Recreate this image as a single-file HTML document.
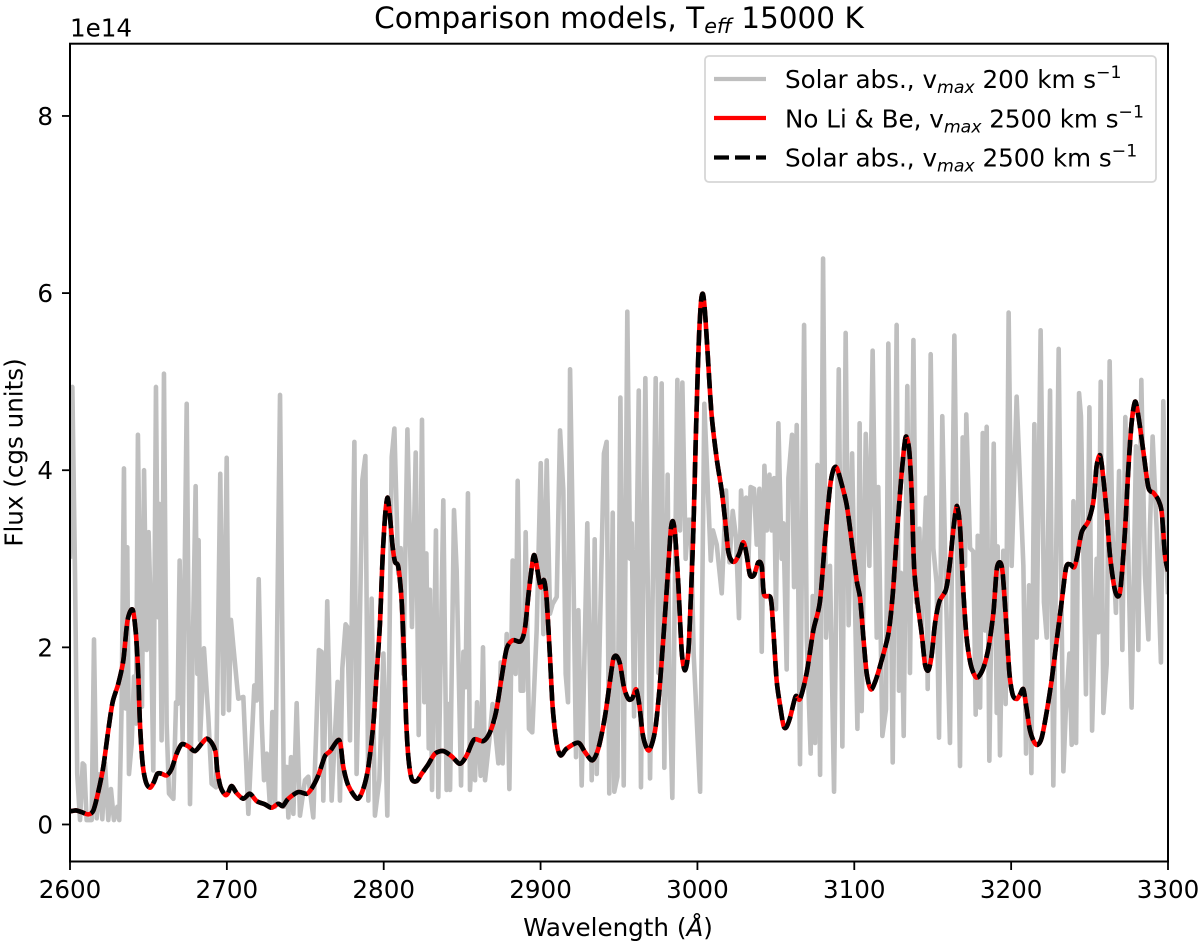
<!DOCTYPE html>
<html lang="en">
<head>
<meta charset="utf-8">
<title>Comparison models</title>
<style>
html,body{margin:0;padding:0;background:#fff}
svg{display:block}
text{font-family:"DejaVu Sans","Liberation Sans",sans-serif;fill:#000}
</style>
</head>
<body>
<svg id="chart" xmlns="http://www.w3.org/2000/svg" width="1200" height="944" viewBox="0 0 1200 944">
  <defs><clipPath id="plot-clip"><rect x="70" y="43.7" width="1098" height="817.8"/></clipPath></defs>
  <rect x="70" y="43.7" width="1098" height="817.8" fill="#fff"/>
  <g id="series" clip-path="url(#plot-clip)"></g>
  <rect x="70" y="43.7" width="1098" height="817.8" fill="none" stroke="#000" stroke-width="2"/>
  <g id="ticks"></g>
  <text x="619" y="28" text-anchor="middle" font-size="29.5">Comparison models, T<tspan font-size="20.7" dy="5" font-style="italic">eff</tspan><tspan dy="-5"> 15000 K</tspan></text>
  <text x="70" y="36.7" font-size="24.6">1e14</text>
  <text x="618" y="936" text-anchor="middle" font-size="24.6">Wavelength (<tspan font-style="italic">Å</tspan>)</text>
  <text transform="translate(22.5,452.5) rotate(-90)" text-anchor="middle" font-size="24.6">Flux (cgs units)</text>
  <g>
    <rect x="705" y="56" width="451" height="126" rx="4" fill="#fff" fill-opacity="0.9" stroke="#d6d6d6" stroke-width="1.8"/>
    <line x1="714" x2="766" y1="79" y2="79" stroke="#bfbfbf" stroke-width="4.2"/>
    <text x="785" y="88" font-size="24.6">Solar abs., v<tspan font-size="17.3" dy="5" font-style="italic">max</tspan><tspan dy="-5"> 200 km s</tspan><tspan font-size="17.3" dy="-10">−1</tspan></text>
    <line x1="714" x2="766" y1="118" y2="118" stroke="#ff0000" stroke-width="4.2"/>
    <text x="785" y="127.3" font-size="24.6">No Li &amp; Be, v<tspan font-size="17.3" dy="5" font-style="italic">max</tspan><tspan dy="-5"> 2500 km s</tspan><tspan font-size="17.3" dy="-10">−1</tspan></text>
    <line x1="714" x2="766" y1="157.5" y2="157.5" stroke="#000" stroke-width="4.2" stroke-dasharray="15 6"/>
    <text x="785" y="166.7" font-size="24.6">Solar abs., v<tspan font-size="17.3" dy="5" font-style="italic">max</tspan><tspan dy="-5"> 2500 km s</tspan><tspan font-size="17.3" dy="-10">−1</tspan></text>
  </g>
</svg>
<script>
const xTicks = [2600,2700,2800,2900,3000,3100,3200,3300];
const yTicks = [0,2,4,6,8];
const xDomain = [2600,3300];
const yDomain = [-0.418,8.816];

const wavelengthsLowRes = [2600,2601.5,2603.2,2604.6,2606.4,2608.1,2609.1,2610.6,2613.8,2615.3,2617,2619.1,2620.6,2622.3,2624.4,2626.1,2628,2630.2,2631.4,2632.9,2634.4,2635.5,2636.5,2637.6,2639.3,2640.8,2642.1,2643.3,2644.6,2645.9,2647.2,2648.9,2650.1,2651.4,2653.1,2654.8,2656.1,2656.9,2658.4,2659.9,2661.6,2663.1,2665.9,2667.6,2668.6,2669.9,2671.8,2674.4,2676.5,2680.1,2681.2,2682,2682.9,2685.4,2688.2,2690.3,2693.1,2695.8,2697.7,2699.9,2701.3,2702.6,2704.1,2707.3,2710.5,2713.7,2717.5,2719,2720.3,2722.2,2723.7,2725.4,2727.5,2729,2730.7,2733.9,2736.4,2738.1,2739.2,2740.9,2742.4,2744.5,2746.6,2749.8,2751.9,2755.1,2758.7,2760.4,2761.5,2764,2766.8,2770.6,2772.1,
2773.6,2775.7,2776.8,2778.5,2781.3,2782.7,2784.2,2786.4,2788.3,2790.2,2792.3,2794.4,2797.2,2799.8,2802.3,2805.1,2806.8,2809.3,2810.8,2812.5,2815.1,2818,2820.4,2822.3,2824.4,2825.9,2827.2,2828.7,2829.5,2830.8,2833.3,2834.8,2838,2840.1,2841.2,2842.3,2844.8,2846.5,2849.3,2850.8,2852.2,2853.7,2855,2857.1,2858.2,2859.5,2861.8,2863.3,2864.6,2867.3,2869.4,2873.1,2874.6,2875.8,2878.4,2880.1,2882.2,2884.1,2885.4,2887.3,2889,2890.5,2892.6,2894.7,2897.5,2900.1,2901.8,2903.9,2906,2907.7,2910.3,2912.4,2914.5,2916,2917.5,2918.8,2920.9,2922.6,2924.1,2926.2,2929.8,2932.6,2934.5,2935.8,2937.5,2940.4,2942.1,2943.8,
2946,2947,2949,2950.9,2953,2955.3,2957,2958.1,2959.6,2960.6,2962.6,2964,2966.8,2969.8,2973.4,2975.1,2977.2,2978.9,2981,2982.1,2984,2987.2,2988.9,2990.4,2992.5,2994.2,2995.7,2997.6,3001.7,3004.4,3008.5,3009.9,3012.3,3015.5,3018.2,3020.4,3022.5,3024.6,3026.5,3027.8,3029.9,3031,3032.5,3033.9,3036.1,3037.8,3039.5,3041,3042.7,3044.2,3045.9,3047.3,3048.8,3050.1,3051.6,3053.7,3054.8,3056.9,3058,3060.3,3061.6,3063.3,3065.4,3068,3069.7,3072.2,3073.5,3075,3076.5,3078.2,3080.1,3082,3084.5,3087.1,3090.1,3092.4,3094.5,3096.4,3098.6,3102,3103.4,3104.7,3107.3,3109.6,3111.7,3114.3,3115.3,3117.9,3120.2,3121.7,
3124.5,3127,3128.5,3129.8,3131.5,3133.8,3135.5,3137.7,3139.4,3141.5,3143,3144,3145.7,3146.8,3148.7,3150.4,3152.5,3154,3156.1,3158.3,3161,3163.8,3167.4,3169.1,3170.6,3171.4,3173.8,3175.9,3177.4,3178.7,3180.2,3181.9,3183.3,3184.4,3186.1,3188.9,3190.8,3191.4,3192.9,3195,3196.5,3198.4,3200.3,3203.5,3207.8,3209.5,3211.4,3212.9,3214.8,3216.3,3218.8,3220.9,3222.7,3224.8,3226.9,3230.3,3233.3,3234.8,3237.1,3238.6,3239.7,3241.4,3243.3,3244.5,3247.7,3249.9,3251.6,3254.5,3255.6,3257.1,3258.8,3260.9,3262.8,3264.5,3266.8,3268.8,3270.9,3272.8,3276.8,3279.6,3281.1,3283,3285.3,3287.5,3288.5,3290.2,3292.8,3295.5,3297,3299.1,3300];

const fluxSolar200 = [3.0,4.94,2.83,.57,.05,.69,.67,.05,.05,2.09,.07,.57,.06,.69,.05,.40,.05,.20,.05,1.33,4.02,1.31,3.13,.57,.91,1.67,1.14,4.40,2.61,1.33,4.00,1.97,3.30,2.46,.61,4.94,2.34,3.62,.95,5.09,1.14,.35,.29,1.38,1.36,2.98,.95,4.75,.23,3.82,1.70,3.21,.95,1.99,1.21,.46,.42,3.96,1.25,4.14,1.29,2.31,2.02,1.42,1.44,.12,1.57,1.40,2.77,1.17,.50,.80,.20,1.27,.20,4.85,.20,.65,.08,.76,.12,1.37,.10,.50,.54,.08,1.97,1.95,.27,2.52,.27,1.61,.27,
1.76,2.26,2.23,.95,4.32,.57,1.70,3.89,4.16,.27,2.55,.10,.50,1.93,.10,4.15,4.47,2.83,3.12,1.70,4.46,2.23,4.20,1.01,4.57,1.38,3.06,.86,2.65,.39,3.32,.31,3.66,.39,1.36,.39,3.55,2.87,.44,1.95,1.55,3.74,.39,1.06,.50,1.38,.55,2.00,.50,.95,1.36,.69,1.83,.69,2.15,.40,2.98,1.70,3.88,1.51,1.51,3.30,1.08,1.04,2.19,4.08,2.15,4.11,2.38,2.49,2.57,4.45,3.77,1.70,1.38,5.14,2.91,.76,2.42,.44,3.40,.50,3.22,.57,1.91,4.19,4.32,.35,
3.52,.37,.54,4.82,.44,5.79,3.00,3.40,1.22,2.27,4.90,.42,5.04,.52,5.04,1.71,4.98,.64,3.95,1.63,.30,5.02,3.32,4.99,3.00,3.44,3.44,1.93,.37,4.75,2.98,3.32,3.16,2.61,3.77,2.96,3.54,3.24,2.33,3.77,3.24,3.69,2.96,3.81,3.79,3.16,3.79,1.95,4.05,3.32,3.95,3.32,3.91,2.43,4.53,3.00,3.40,1.75,3.91,4.40,2.68,4.51,.68,5.64,2.11,.80,2.58,.92,4.06,.56,6.39,2.11,2.92,.37,5.14,.88,5.55,2.25,4.19,1.08,4.53,1.28,4.41,2.92,5.35,2.11,3.81,1.00,1.30,5.43,
.70,5.64,1.51,2.84,1.00,4.95,1.71,5.47,2.51,3.34,2.11,2.92,3.69,1.53,5.31,3.12,2.72,.98,4.61,2.72,.92,5.52,.66,4.37,2.92,4.63,3.12,3.08,1.24,3.26,1.32,4.42,2.19,4.49,.72,4.30,1.26,3.14,.78,3.09,1.36,5.78,2.92,4.83,2.92,.80,2.70,.58,4.52,2.11,5.58,2.51,2.11,4.90,.44,5.37,.60,1.26,1.93,.90,3.65,.92,4.87,4.61,1.47,4.71,1.06,3.00,2.17,5.00,1.26,1.81,5.23,3.32,2.39,3.99,1.97,4.60,1.32,4.27,1.97,5.02,2.82,2.09,3.34,4.38,3.32,1.83,4.78,2.92,2.6];

const wavelengthsHighRes = [2600,2603.8,2607.4,2611.7,2614.9,2618,2621.2,2624.4,2627.2,2630.8,2634,2636.7,2639.9,2642,2643.5,2644.6,2646.3,2648.4,2651,2653.5,2655.7,2658.4,2661.6,2664.8,2668,2671.2,2675.4,2679.7,2683.9,2687.1,2690.3,2692.8,2693.9,2696,2698.8,2700.5,2703,2706.2,2710.5,2714.7,2719,2724.3,2728.5,2732.8,2735.6,2739.2,2745.5,2750.9,2754,2758.3,2762.5,2765.75,2771.7,2774.25,2777.4,2783.2,2787,2790.2,2793.4,2795.5,2797.6,2799.3,2801,2802.5,2804,2805.7,2807.2,2809.3,2811.4,2813,2814.2,2815.7,2817.8,2821,2824.2,2828.4,2832.7,2838,2843.3,2848.6,2852.9,2857.5,2863.5,2867.8,2871.6,2875.2,2878.4,2882.2,2887.3,2890,2892.6,2895.4,2896.9,2900,2902.2,2903.9,2906,2907.7,2910.3,2912.8,2916.6,2924,2928.3,2933,2936.8,2941,2944.3,2946.4,2948.5,2950.7,2953.2,2956,2958.5,2960.9,2963,2965.1,2967.7,2969.8,2973,2975.7,2978.3,2981,2983,2984.4,2985.9,2987.8,2990,2992.1,2994.2,2995.7,2997.4,2999.1,3000.8,3002.3,3003.6,3005,3007,3009.1,3012.3,3015.5,3017.6,3019.7,3021.8,3024,3026.7,3029.3,3031.4,3033.5,3036.1,3038.8,3041,3042.5,3046.7,3048.4,3050.5,3052.7,3054.8,3056.5,3059,3062.6,3065.4,3069.6,3073.9,3078.1,3081.3,3084.5,3086.7,3088.8,3091.3,3095.2,3098.3,3101.5,3103.7,3105.8,3107.9,3110.5,3113.2,3116.4,3121.7,3124.5,3127,3130.2,3132.3,3133.4,3135.1,3136.6,3138.1,3140.2,3143,3145.1,3147.2,3149.3,3151.5,3154.2,3158.5,3161,3163.6,3165.5,3167.4,3169.5,3171.6,3174.2,3177,3179.1,3182.3,3185.5,3188.7,3190.8,3193,3194.6,3196.7,3198.9,3201,3203.5,3205.6,3207.8,3209.9,3212,3214.6,3216.9,3219.5,3222.6,3225.8,3229,3232.2,3235,3237.5,3240.3,3242.2,3245,3249.2,3252.4,3254.5,3256.7,3258.4,3260.9,3263,3265.8,3267.9,3269.8,3272.6,3274.7,3276.8,3279,3281.1,3284.3,3287.5,3290.7,3293.8,3296,3298.1,3300];

const fluxSolar2500 = [.148,.159,.14,.114,.159,.366,.648,1.063,1.383,1.59,1.854,2.306,2.426,2.155,1.703,1.138,.686,.479,.415,.479,.573,.573,.554,.63,.8,.905,.882,.829,.912,.969,.923,.818,.611,.422,.336,.347,.434,.355,.291,.347,.264,.227,.189,.234,.208,.291,.366,.347,.404,.554,.77,.826,.95,.649,.441,.291,.404,.649,1.138,1.703,2.268,3.02,3.51,3.69,3.473,3.134,2.965,2.908,2.532,1.891,1.213,.761,.517,.49,.573,.679,.8,.829,.77,.686,.78,.957,.942,1.044,1.27,1.665,1.985,2.08,2.068,2.211,2.644,3.021,2.983,2.682,2.758,2.532,1.891,1.326,.912,.78,.856,.923,.818,.724,.856,1.213,1.626,1.869,1.901,1.808,1.546,1.417,1.425,1.526,1.344,1.021,.86,.852,1.062,1.506,2.111,2.797,3.32,3.423,3.241,2.716,1.95,1.74,1.95,2.515,3.32,4.452,5.42,5.905,5.985,5.743,5.178,4.613,4.129,3.766,3.443,3.08,2.979,2.971,3.06,3.189,3.04,2.817,2.817,2.959,2.918,2.595,2.555,2.192,1.627,1.344,1.122,1.094,1.203,1.445,1.417,1.707,2.192,2.515,3.201,3.806,4.008,4.028,3.887,3.604,3.201,2.757,2.555,2.111,1.707,1.526,1.607,1.788,2.151,2.595,3.241,3.968,4.331,4.371,4.21,3.725,2.918,2.515,2.151,1.808,1.74,1.909,2.272,2.515,2.656,2.959,3.403,3.596,3.362,2.636,2.111,1.808,1.675,1.667,1.768,1.99,2.394,2.878,2.959,2.837,2.313,1.707,1.465,1.417,1.465,1.526,1.304,1.062,.932,.9,.981,1.264,1.627,2.071,2.515,2.898,2.938,2.906,3.039,3.302,3.423,3.645,4.048,4.169,3.968,3.524,3.039,2.676,2.575,2.676,3.322,4.008,4.533,4.775,4.613,4.21,3.806,3.746,3.665,3.524,3.039,2.858];

const fluxNoLiBe = fluxSolar2500.slice();

const xScale = v => 70 + (v - xDomain[0]) / (xDomain[1] - xDomain[0]) * 1098;
const yScale = v => 861.5 - (v - yDomain[0]) / (yDomain[1] - yDomain[0]) * 817.8;
const NS = 'http://www.w3.org/2000/svg';

function linePath(xs, ys) {
  return xs.map((x, i) => (i ? 'L' : 'M') + xScale(x).toFixed(2) + ' ' + yScale(ys[i]).toFixed(2)).join('');
}
function smoothPath(xs, ys) {
  const p = xs.map((x, i) => [xScale(x), yScale(ys[i])]);
  let d = 'M' + p[0][0].toFixed(2) + ' ' + p[0][1].toFixed(2);
  for (let i = 0; i < p.length - 1; i++) {
    const a = p[Math.max(i - 1, 0)], b = p[i], c = p[i + 1], e = p[Math.min(i + 2, p.length - 1)];
    const k = 0.14;
    d += 'C' + (b[0] + (c[0] - a[0]) * k).toFixed(2) + ' ' + (b[1] + (c[1] - a[1]) * k).toFixed(2) + ' ' +
      (c[0] - (e[0] - b[0]) * k).toFixed(2) + ' ' + (c[1] - (e[1] - b[1]) * k).toFixed(2) + ' ' +
      c[0].toFixed(2) + ' ' + c[1].toFixed(2);
  }
  return d;
}

const seriesGroup = document.getElementById('series');

const grayLine = document.createElementNS(NS, 'path');


grayLine.setAttribute('d', linePath(wavelengthsLowRes, fluxSolar200));
grayLine.setAttribute('fill', 'none');
grayLine.setAttribute('stroke', '#bfbfbf');
grayLine.setAttribute('stroke-width', '4.6');
grayLine.setAttribute('stroke-linejoin', 'round');
seriesGroup.appendChild(grayLine);

const redLine = document.createElementNS(NS, 'path');


redLine.setAttribute('d', smoothPath(wavelengthsHighRes, fluxNoLiBe));
redLine.setAttribute('fill', 'none');
redLine.setAttribute('stroke', '#ff0000');
redLine.setAttribute('stroke-width', '4.6');
redLine.setAttribute('stroke-linejoin', 'round');
seriesGroup.appendChild(redLine);

const blackLine = document.createElementNS(NS, 'path');


blackLine.setAttribute('d', smoothPath(wavelengthsHighRes, fluxSolar2500));
blackLine.setAttribute('fill', 'none');
blackLine.setAttribute('stroke', '#000');
blackLine.setAttribute('stroke-width', '4.6');
blackLine.setAttribute('stroke-dasharray', '15.5 6.5');
seriesGroup.appendChild(blackLine);

const tickGroup = document.getElementById('ticks');
xTicks.forEach(t => {
  const mark = document.createElementNS(NS, 'line');
  
  
  mark.setAttribute('x1', xScale(t));
  mark.setAttribute('x2', xScale(t));
  mark.setAttribute('y1', 861.5);
  mark.setAttribute('y2', 870);
  mark.setAttribute('stroke', '#000');
  mark.setAttribute('stroke-width', '1.8');
  tickGroup.appendChild(mark);
  const label = document.createElementNS(NS, 'text');
  
  
  label.setAttribute('x', xScale(t));
  label.setAttribute('y', 898);
  label.setAttribute('text-anchor', 'middle');
  label.setAttribute('font-size', '24.6');
  label.textContent = t;
  tickGroup.appendChild(label);
});
yTicks.forEach(t => {
  const mark = document.createElementNS(NS, 'line');
  
  
  mark.setAttribute('x1', 62);
  mark.setAttribute('x2', 70);
  mark.setAttribute('y1', yScale(t));
  mark.setAttribute('y2', yScale(t));
  mark.setAttribute('stroke', '#000');
  mark.setAttribute('stroke-width', '1.8');
  tickGroup.appendChild(mark);
  const label = document.createElementNS(NS, 'text');
  
  
  label.setAttribute('x', 53);
  label.setAttribute('y', yScale(t) + 9);
  label.setAttribute('text-anchor', 'end');
  label.setAttribute('font-size', '24.6');
  label.textContent = t;
  tickGroup.appendChild(label);
});
</script>
</body>
</html>
